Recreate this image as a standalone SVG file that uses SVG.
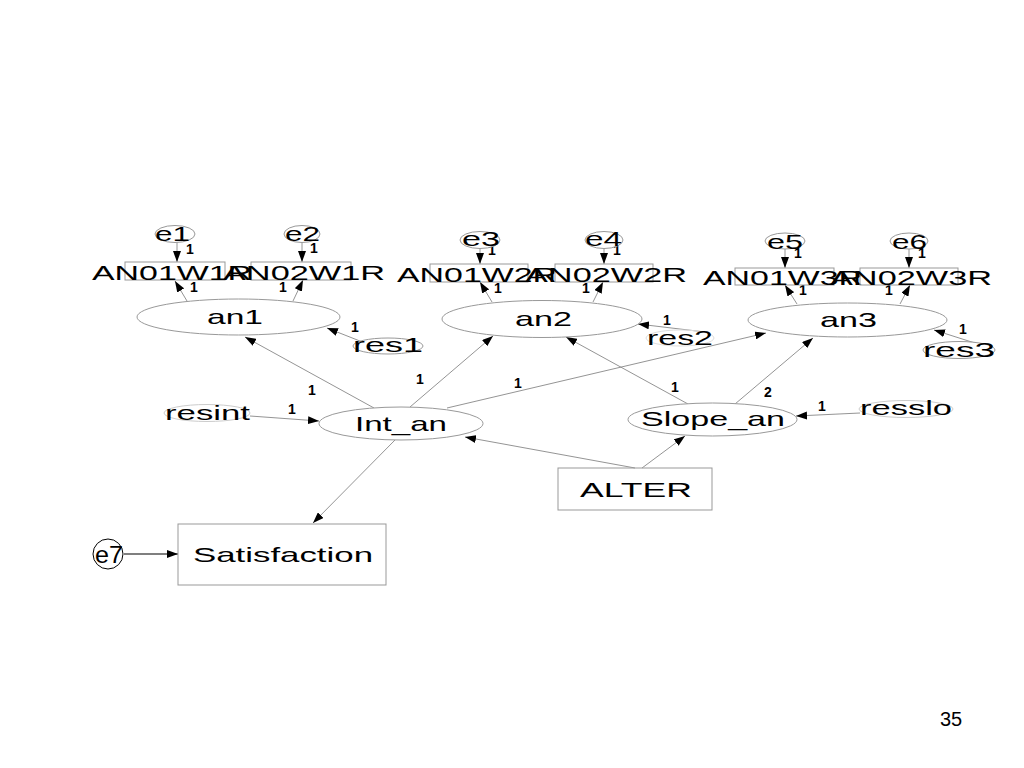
<svg xmlns="http://www.w3.org/2000/svg" width="1024" height="768" viewBox="0 0 1024 768">
<defs>
<marker id="ah" markerUnits="userSpaceOnUse" markerWidth="11" markerHeight="8" refX="11" refY="4" orient="auto">
<path d="M0,0 L11,4 L0,8 z" fill="#000"/>
</marker>
<style>
.lt{font-family:"Liberation Sans",Arial,sans-serif;fill:#000}
.lb{font-size:21px}
.sm{font-size:14px;font-weight:bold}
.el{fill:#fff;stroke:#999;stroke-width:1}
.bx{fill:none;stroke:#999;stroke-width:1}
.cn{stroke:#888;stroke-width:0.9;fill:none;marker-end:url(#ah)}
</style>
</defs>
<rect width="1024" height="768" fill="#fff"/>

<g id="connectors">
<line class="cn" x1="177" y1="242" x2="177" y2="262"/>
<line class="cn" x1="302" y1="242" x2="302" y2="262"/>
<line class="cn" x1="480" y1="249" x2="480" y2="264"/>
<line class="cn" x1="604" y1="249" x2="604" y2="264"/>
<line class="cn" x1="785" y1="249" x2="785" y2="268"/>
<line class="cn" x1="909" y1="249" x2="909" y2="268"/>
<line class="cn" x1="187" y1="301" x2="175" y2="281"/>
<line class="cn" x1="293" y1="301" x2="303" y2="280"/>
<line class="cn" x1="492" y1="302" x2="480" y2="282"/>
<line class="cn" x1="593" y1="302" x2="603" y2="282"/>
<line class="cn" x1="797" y1="304" x2="785" y2="285"/>
<line class="cn" x1="900" y1="304" x2="910" y2="285"/>
<line class="cn" x1="370" y1="345" x2="327" y2="328"/>
<line class="cn" x1="705" y1="332" x2="638" y2="324"/>
<line class="cn" x1="978" y1="344" x2="934" y2="330"/>
<line class="cn" x1="374" y1="408" x2="245" y2="337"/>
<line class="cn" x1="410" y1="407" x2="493" y2="336"/>
<line class="cn" x1="447" y1="408" x2="766" y2="333"/>
<line class="cn" x1="250" y1="416" x2="319" y2="421"/>
<line class="cn" x1="635" y1="468" x2="465" y2="437"/>
<line class="cn" x1="642" y1="468" x2="685" y2="436"/>
<line class="cn" x1="688" y1="404" x2="566" y2="337"/>
<line class="cn" x1="735" y1="404" x2="813" y2="338"/>
<line class="cn" x1="860" y1="413" x2="796" y2="416"/>
<line class="cn" x1="395" y1="440" x2="313" y2="523"/>
<line x1="124" y1="554" x2="178" y2="554" stroke="#000" stroke-width="1.2" marker-end="url(#ah)"/>
</g>

<g id="coefficients" class="lt sm">
<text x="186" y="254">1</text>
<text x="310" y="253">1</text>
<text x="488" y="255">1</text>
<text x="613" y="255">1</text>
<text x="794" y="258">1</text>
<text x="918" y="258">1</text>
<text x="190" y="292">1</text>
<text x="279" y="292">1</text>
<text x="494" y="293">1</text>
<text x="582" y="293">1</text>
<text x="799" y="295">1</text>
<text x="885" y="295">1</text>
<text x="351" y="332">1</text>
<text x="663" y="325">1</text>
<text x="959" y="334">1</text>
<text x="288" y="414">1</text>
<text x="308" y="395">1</text>
<text x="416" y="384">1</text>
<text x="514" y="388">1</text>
<text x="671" y="392">1</text>
<text x="764" y="397">2</text>
<text x="818" y="411">1</text>
</g>

<g id="e1"><ellipse class="el" cx="175" cy="234" rx="20" ry="8.5"/><text class="lt lb" x="155" y="241" textLength="35" lengthAdjust="spacingAndGlyphs">e1</text></g>
<g id="e2"><ellipse class="el" cx="302" cy="234" rx="18" ry="8.5"/><text class="lt lb" x="285" y="241" textLength="35" lengthAdjust="spacingAndGlyphs">e2</text></g>
<g id="e3"><ellipse class="el" cx="480" cy="240" rx="20" ry="8.5"/><text class="lt lb" x="462" y="246" textLength="38" lengthAdjust="spacingAndGlyphs">e3</text></g>
<g id="e4"><ellipse class="el" cx="604" cy="240" rx="19" ry="8.5"/><text class="lt lb" x="585" y="246" textLength="37" lengthAdjust="spacingAndGlyphs">e4</text></g>
<g id="e5"><ellipse class="el" cx="785" cy="241" rx="20" ry="8"/><text class="lt lb" x="767" y="249" textLength="36" lengthAdjust="spacingAndGlyphs">e5</text></g>
<g id="e6"><ellipse class="el" cx="909" cy="241" rx="19" ry="8"/><text class="lt lb" x="892" y="249" textLength="35" lengthAdjust="spacingAndGlyphs">e6</text></g>

<g id="AN01W1R"><rect class="bx" x="125" y="262" width="100" height="18"/><text class="lt lb" x="92" y="280" textLength="160" lengthAdjust="spacingAndGlyphs">AN01W1R</text></g>
<g id="AN02W1R"><rect class="bx" x="251" y="262" width="100" height="18"/><text class="lt lb" x="223" y="280" textLength="162" lengthAdjust="spacingAndGlyphs">AN02W1R</text></g>
<g id="AN01W2R"><rect class="bx" x="430" y="264" width="98" height="18"/><text class="lt lb" x="397" y="282" textLength="160" lengthAdjust="spacingAndGlyphs">AN01W2R</text></g>
<g id="AN02W2R"><rect class="bx" x="555" y="264" width="98" height="18"/><text class="lt lb" x="525" y="282" textLength="162" lengthAdjust="spacingAndGlyphs">AN02W2R</text></g>
<g id="AN01W3R"><rect class="bx" x="735" y="268" width="99" height="17"/><text class="lt lb" x="703" y="285" textLength="160" lengthAdjust="spacingAndGlyphs">AN01W3R</text></g>
<g id="AN02W3R"><rect class="bx" x="860" y="268" width="98" height="17"/><text class="lt lb" x="830" y="285" textLength="162" lengthAdjust="spacingAndGlyphs">AN02W3R</text></g>

<g id="an1"><ellipse class="el" cx="238.5" cy="317" rx="101.5" ry="18"/><text class="lt lb" x="207" y="324" textLength="56" lengthAdjust="spacingAndGlyphs">an1</text></g>
<g id="an2"><ellipse class="el" cx="542" cy="319" rx="100" ry="18.5"/><text class="lt lb" x="515" y="326" textLength="57" lengthAdjust="spacingAndGlyphs">an2</text></g>
<g id="an3"><ellipse class="el" cx="847.5" cy="320" rx="99.5" ry="17"/><text class="lt lb" x="820" y="327" textLength="57" lengthAdjust="spacingAndGlyphs">an3</text></g>

<g id="res1"><ellipse class="el" cx="388" cy="346" rx="35" ry="8"/><text class="lt lb" x="353" y="352" textLength="70" lengthAdjust="spacingAndGlyphs">res1</text></g>
<g id="res2"><ellipse cx="680" cy="338" rx="34" ry="8" fill="none" stroke="#ddd"/><text class="lt lb" x="647" y="345" textLength="66" lengthAdjust="spacingAndGlyphs">res2</text></g>
<g id="res3"><ellipse class="el" cx="959" cy="350" rx="36" ry="8.5"/><text class="lt lb" x="923" y="357" textLength="72" lengthAdjust="spacingAndGlyphs">res3</text></g>
<g id="resint"><ellipse cx="207" cy="413" rx="43" ry="8.5" fill="none" stroke="#ccc"/><text class="lt lb" x="165" y="420" textLength="85" lengthAdjust="spacingAndGlyphs">resint</text></g>
<g id="resslo"><ellipse cx="906" cy="409" rx="47" ry="8.5" fill="none" stroke="#ccc"/><text class="lt lb" x="860" y="415" textLength="92" lengthAdjust="spacingAndGlyphs">resslo</text></g>

<g id="Int_an"><ellipse class="el" cx="401" cy="423.5" rx="82" ry="16.5"/><text class="lt lb" x="355" y="431" textLength="92" lengthAdjust="spacingAndGlyphs">Int_an</text></g>
<g id="Slope_an"><ellipse class="el" cx="712.5" cy="419.5" rx="84.5" ry="16.5"/><text class="lt lb" x="641" y="426" textLength="144" lengthAdjust="spacingAndGlyphs">Slope_an</text></g>

<g id="ALTER"><rect class="bx" x="558" y="468" width="154" height="42"/><text class="lt lb" x="580" y="497" textLength="112" lengthAdjust="spacingAndGlyphs">ALTER</text></g>
<g id="Satisfaction"><rect class="bx" x="178" y="524" width="208" height="61"/><text class="lt lb" x="193" y="562" textLength="180" lengthAdjust="spacingAndGlyphs">Satisfaction</text></g>
<g id="e7"><circle cx="108" cy="554" r="15" fill="#fff" stroke="#000" stroke-width="1"/><text class="lt" x="95" y="563" font-size="23" textLength="28" lengthAdjust="spacingAndGlyphs">e7</text></g>

<text class="lt" x="940" y="726" font-size="20">35</text>
</svg>
